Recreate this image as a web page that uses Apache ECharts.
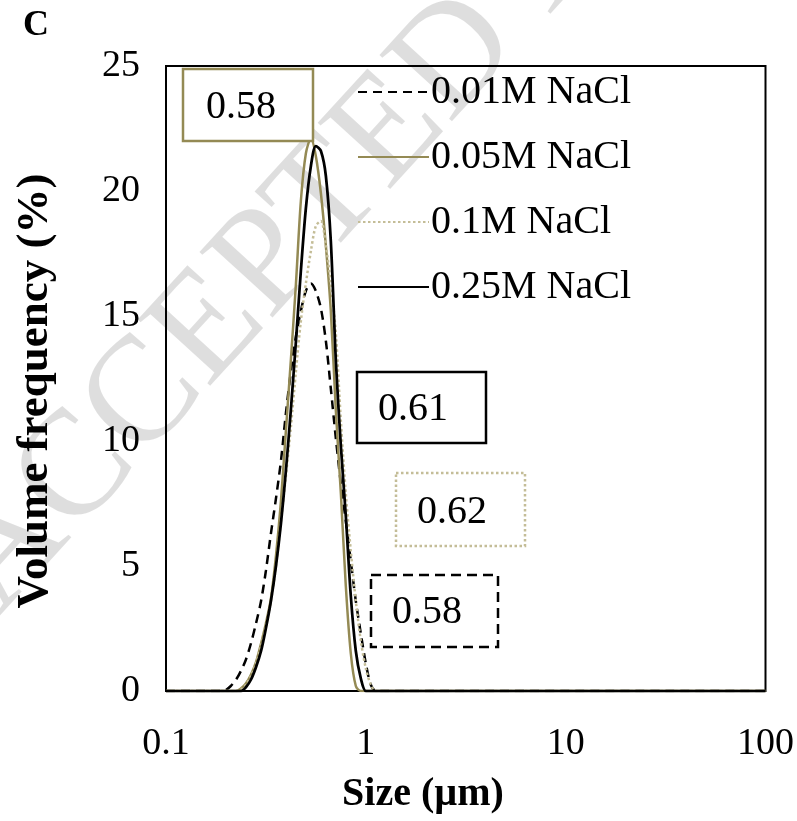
<!DOCTYPE html>
<html>
<head>
<meta charset="utf-8">
<title>Particle size distribution</title>
<script src="https://cdn.jsdelivr.net/npm/echarts@6/dist/echarts.min.js"></script>
<style>
  html, body { margin: 0; padding: 0; background: #fff; }
  #chart { width: 797px; height: 821px; }
</style>
</head>
<body>
<div id="chart"></div>
<script>
// Particle size classes (µm), log-spaced
const sizes = [0.1, 0.168, 0.178, 0.188, 0.2, 0.211, 0.224, 0.237, 0.251, 0.266, 0.282, 0.299,
  0.316, 0.335, 0.355, 0.376, 0.398, 0.422, 0.447, 0.473, 0.501, 0.531, 0.562, 0.596, 0.631,
  0.668, 0.708, 0.75, 0.794, 0.841, 0.891, 0.944, 1.0, 1.059, 1.122, 1.189, 100];

// Volume frequency (%) for each NaCl concentration
const nacl001 = [0, 0, 0, 0, 0.05, 0.2, 0.45, 0.8, 1.25, 1.9, 2.7, 3.6,
  4.8, 6.3, 7.7, 9.2, 11.1, 12.8, 14.2, 15.2, 16.0, 16.3, 16.0, 15.3, 14.0,
  12.1, 10.1, 8.3, 6.8, 5.2, 3.6, 2.3, 1.1, 0.25, 0, 0, 0];
const nacl005 = [0, 0, 0, 0, 0, 0, 0, 0.1, 0.3, 0.65, 1.15, 1.9,
  2.7, 3.7, 5.4, 7.6, 10.4, 13.3, 16.3, 19.6, 21.5, 22.1, 21.4, 19.9, 17.8,
  15.2, 11.2, 7.9, 4.2, 1.5, 0.2, 0, 0, 0, 0, 0, 0];
const nacl01 = [0, 0, 0, 0, 0, 0, 0, 0.05, 0.25, 0.6, 1.1, 1.8,
  2.6, 3.6, 5.0, 6.8, 8.6, 10.6, 12.8, 14.8, 16.3, 17.6, 18.6, 18.8, 17.8,
  16.3, 14.3, 10.8, 7.9, 5.6, 3.6, 2.0, 0.9, 0.25, 0, 0, 0];
const nacl025 = [0, 0, 0, 0, 0, 0, 0, 0, 0.15, 0.45, 0.95, 1.6,
  2.5, 3.6, 5.0, 6.7, 8.8, 11.3, 14.0, 16.8, 19.3, 21.0, 21.8, 21.6, 20.6,
  18.0, 13.2, 9.8, 7.0, 3.8, 1.6, 0.5, 0, 0, 0, 0, 0];

const seriesNames = ['0.01M NaCl', '0.05M NaCl', '0.1M NaCl', '0.25M NaCl'];
const yTicks = [0, 5, 10, 15, 20, 25];

// Mean size annotations per concentration
const meanLabels = ['0.58', '0.58', '0.62', '0.61'];

const OLIVE = '#948A54';
const TAN = '#C4BD97';
const SERIF = '"Liberation Serif", "Times New Roman", serif';

const pair = vals => sizes.map((s, i) => [s, vals[i]]);

const chart = echarts.init(document.getElementById('chart'), null, { renderer: 'canvas' });

function box(x, y, w, h, color, dash, label, cx, cy) {
  return [
    { type: 'rect', shape: { x: x, y: y, width: w, height: h }, z: 10,
      style: { fill: '#fff', stroke: color, lineWidth: 2.5, lineDash: dash } },
    { type: 'text', x: cx, y: cy, z: 11,
      style: { text: label, font: '40px ' + SERIF, fill: '#000', align: 'center', verticalAlign: 'middle' } }
  ];
}

const option = {
  backgroundColor: '#fff',
  animation: false,
  grid: { left: 166, right: 31, top: 66, bottom: 130, show: true, borderColor: '#000', borderWidth: 2, backgroundColor: 'transparent', z: 3 },
  xAxis: {
    type: 'log', logBase: 10, min: 0.1, max: 100,
    axisLine: { show: false }, axisTick: { show: false }, splitLine: { show: false },
    axisLabel: { fontFamily: SERIF, fontSize: 38, color: '#000', margin: 34,
      formatter: v => String(v) }
  },
  yAxis: {
    type: 'value', min: yTicks[0], max: yTicks[yTicks.length - 1], interval: 5,
    axisLine: { show: false }, axisTick: { show: false }, splitLine: { show: false },
    axisLabel: { fontFamily: SERIF, fontSize: 38, color: '#000', margin: 26 }
  },
  legend: {
    orient: 'vertical', left: 357, top: 72, padding: 0, itemWidth: 71, itemHeight: 1, itemGap: 25,
    textStyle: { fontFamily: SERIF, fontSize: 40, color: '#000', padding: [0, 0, 0, -3] },
    data: seriesNames
  },
  series: [
    { name: seriesNames[0], type: 'line', data: pair(nacl001), symbol: 'none', smooth: 0.3,
      lineStyle: { color: '#000', width: 2.5, type: [9, 6] }, itemStyle: { color: '#000' } },
    { name: seriesNames[1], type: 'line', data: pair(nacl005), symbol: 'none', smooth: 0.3,
      lineStyle: { color: OLIVE, width: 2.5 }, itemStyle: { color: OLIVE } },
    { name: seriesNames[2], type: 'line', data: pair(nacl01), symbol: 'none', smooth: 0.3,
      lineStyle: { color: TAN, width: 2.5, type: [2.5, 2.5] }, itemStyle: { color: TAN } },
    { name: seriesNames[3], type: 'line', data: pair(nacl025), symbol: 'none', smooth: 0.3,
      lineStyle: { color: '#000', width: 2.75 }, itemStyle: { color: '#000' } }
  ],
  graphic: [
    // faint diagonal stamp behind the plot
    { type: 'text', x: -30, y: 590, rotation: 0.83, z: -10, silent: true,
      style: { text: 'ACCEPTED MANUSCRIPT', font: '150px ' + SERIF, fill: 'rgba(0,0,0,0.13)',
        align: 'left', verticalAlign: 'middle' } },
    { type: 'text', x: 36, y: 26, style: { text: 'C', font: 'bold 36px ' + SERIF, fill: '#000', align: 'center', verticalAlign: 'middle' } },
    { type: 'text', x: 423, y: 795, style: { text: 'Size (µm)', font: 'bold 40px ' + SERIF, fill: '#000', align: 'center', verticalAlign: 'middle' } },
    { type: 'text', x: 35, y: 391, rotation: Math.PI / 2,
      style: { text: 'Volume frequency (%)', font: 'bold 45px ' + SERIF, fill: '#000', align: 'center', verticalAlign: 'middle' } },
    ...box(183, 69, 130, 72, OLIVE, null, meanLabels[1], 241, 107),
    ...box(357, 372, 129, 71, '#000', null, meanLabels[3], 413, 409),
    ...box(396, 473, 129, 73, TAN, [2.5, 2.5], meanLabels[2], 452, 512),
    ...box(371, 575, 127, 72, '#000', [10, 6], meanLabels[0], 427, 612)
  ]
};

chart.setOption(option);
</script>
</body>
</html>
